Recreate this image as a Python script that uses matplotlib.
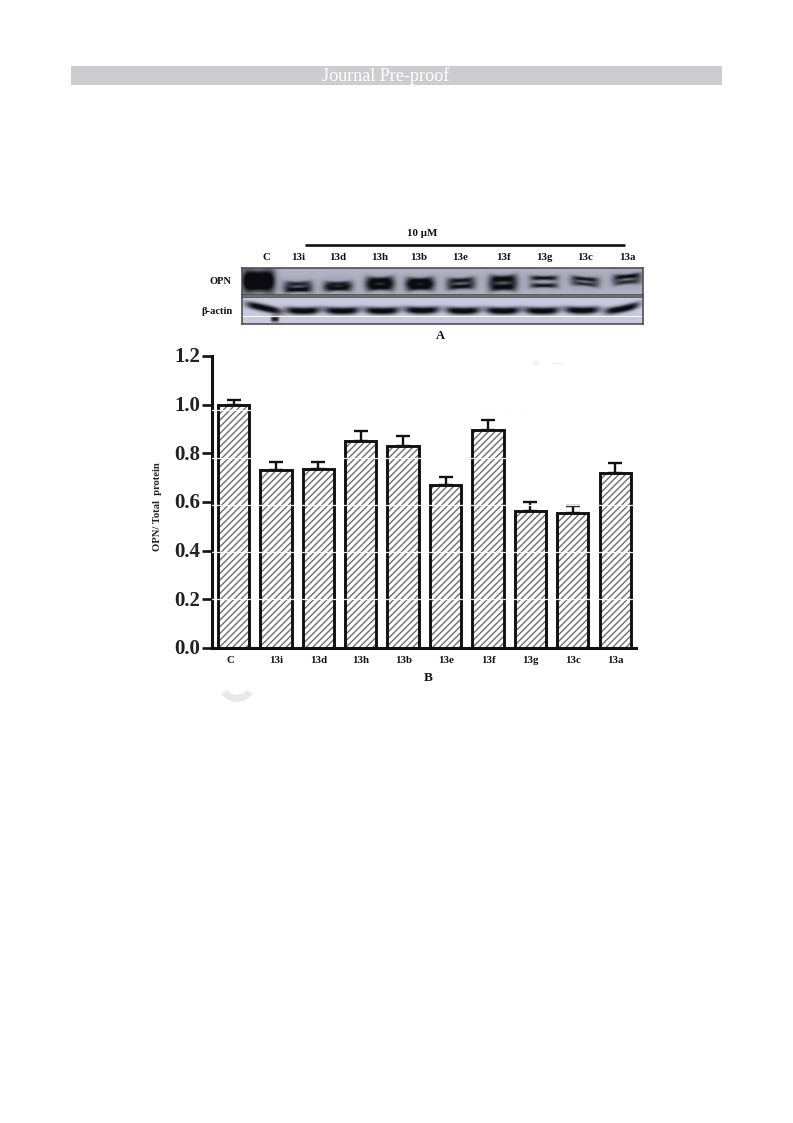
import numpy as np
import matplotlib
matplotlib.use("Agg")
import matplotlib.pyplot as plt
from matplotlib.patches import Rectangle, Wedge
from matplotlib.transforms import ScaledTranslation

categories = ["C", "13i", "13d", "13h", "13b", "13e", "13f", "13g", "13c", "13a"]
values = [1.00, 0.73, 0.735, 0.85, 0.83, 0.67, 0.895, 0.565, 0.555, 0.72]
errors = [0.02, 0.035, 0.03, 0.04, 0.04, 0.033, 0.04, 0.035, 0.027, 0.04]
y_ticks = [0.0, 0.2, 0.4, 0.6, 0.8, 1.0, 1.2]
scan_lines = [0.201, 0.395, 0.588, 0.781, 0.978]

# western blot band strengths per lane
opn_upper = [1.0, 0.75, 0.80, 1.0, 1.0, 0.85, 1.0, 0.90, 0.85, 0.95]
opn_lower = [1.0, 1.0, 0.90, 1.0, 1.0, 0.90, 1.0, 0.85, 0.70, 0.70]
actin_band = [1.0, 1.0, 1.0, 1.0, 1.0, 1.0, 1.0, 1.0, 1.0, 1.0]

W, H = 793, 1123
fig = plt.figure(figsize=(W / 100, H / 100), dpi=100, facecolor="white")
plt.rcParams["font.family"] = ["Liberation Serif", "DejaVu Serif"]
plt.rcParams["hatch.linewidth"] = 1.0
plt.rcParams["hatch.color"] = "#6e6e6e"


def axes_px(x0, y0, x1, y1, **kw):
    return fig.add_axes([x0 / W, 1 - y1 / H, (x1 - x0) / W, (y1 - y0) / H], **kw)


page = axes_px(0, 0, W, H)
page.set_xlim(0, W)
page.set_ylim(H, 0)
page.axis("off")
page.add_patch(Rectangle((71, 66), 651, 19, fc="#cdcdd1", ec="none"))
page.add_patch(Wedge((237, 683), 19, 35, 145, width=7, fc="#e8e8ea", ec="none"))
page.text(386, 76, "Journal Pre-proof", color="white", fontsize=13.1, ha="center", va="center")
page.plot([305, 625], [244.5, 244.5], color="#111111", lw=1.9, solid_capstyle="butt")
page.text(422, 233, "10 µM", fontsize=7.9, fontweight="bold", ha="center", va="center", color="#111111")
page.text(440, 336, "A", fontsize=9, fontweight="bold", ha="center", va="center", color="#111111")
page.text(428, 678, "B", fontsize=9.5, fontweight="bold", ha="center", va="center", color="#111111")
page.text(232, 282, "OPN", fontsize=7.6, fontweight="bold", ha="right", va="center", color="#111111")
page.text(233, 311, "β-actin", fontsize=7.6, fontweight="bold", ha="right", va="center", color="#111111")
page.text(157, 507, "OPN/ Total  protein", fontsize=7.7, fontweight="bold", rotation=90,
          ha="center", va="center", color="#222222")

opn_lanes = [258.5, 298, 338, 380, 420, 461, 503, 544, 585, 627]
opn_upper_y = [277, 284, 284, 280.5, 281, 280.5, 279, 278, 279, 276.5]
opn_lower_y = [285, 289.5, 288.5, 287, 287, 286.5, 287, 285.5, 284, 282]
opn_half_h = [7.5, 2.3, 2.3, 3.1, 3.0, 2.4, 3.3, 1.9, 1.9, 2.1]
opn_slope = [0, -0.02, -0.02, -0.02, -0.02, -0.05, -0.03, 0, 0.09, -0.09]
actin_lanes = [264, 303, 342, 382, 422, 463, 503, 542, 582, 622]
actin_y = [308, 311, 311, 311, 310.5, 311, 311, 311, 310.5, 309]
actin_slope = [0.22, 0, 0, 0, 0, 0, 0, 0, 0, -0.2]
blot_labels_x = [266.5, 298, 338, 380, 419, 460, 503, 544, 585, 627]
for lx, c in zip(blot_labels_x, categories):
    page.text(lx, 257, c, fontsize=7.8, fontweight="bold", ha="center", va="center", color="#111111")

# faint scanning specks above the bars
speck_x = [(533, 538), (553, 561), (484, 492), (502, 510), (523, 528)]
speck_y = [363, 363, 410, 410, 410]
for (a, b), yy in zip(speck_x, speck_y):
    page.plot([a, b], [yy, yy], color="#ececec", lw=0.9)


def band(xx, yy, cx, cy, half_w, half_h, slope=0.0, curve=0.0, bow=0.0):
    dx = xx - cx
    dy = yy - cy - slope * dx + curve * dx ** 2
    h = half_h * (1 + bow * (dx / half_w) ** 2)
    return np.exp(-np.abs(dx / half_w) ** 4) * np.exp(-np.abs(dy / h) ** 2.5)


def blot(x0, y0, x1, y1, bg, draw):
    xx, yy = np.meshgrid(np.arange(x0, x1, 0.5) + 0.25, np.arange(y0, y1, 0.5) + 0.25)
    dens = np.clip(draw(xx, yy), 0, 1)[..., None]
    img = np.array(bg)[None, None, :] * (1 - dens) + np.array([0.04, 0.04, 0.06])[None, None, :] * dens
    a = axes_px(x0, y0, x1, y1)
    a.imshow(img, extent=(x0, x1, y1, y0), aspect="auto", interpolation="bilinear")
    a.set_xticks([])
    a.set_yticks([])
    for s in a.spines.values():
        s.set_linewidth(1.1)
        s.set_color("#444444")
    return a


def opn(xx, yy):
    d = 0 * xx
    for i, cx in enumerate(opn_lanes):
        w = 15 if i == 0 else 13.5
        d = d + 0.12 * band(xx, yy, cx, (opn_upper_y[i] + opn_lower_y[i]) / 2, w + 5, 9)
        d = d + opn_upper[i] * band(xx, yy, cx, opn_upper_y[i], w, opn_half_h[i], opn_slope[i], 0, 0.6)
        d = d + opn_lower[i] * band(xx, yy, cx, opn_lower_y[i], w, opn_half_h[i], opn_slope[i], 0, 0.6)
    return d


def actin(xx, yy):
    d = 0 * xx
    for i, cx in enumerate(actin_lanes):
        w = 17.5 if i else 18
        d = d + 1.1 * actin_band[i] * band(xx, yy, cx, actin_y[i], w, 3.6, actin_slope[i], 0.004 if i else 0)
    d = d + 0.9 * band(xx, yy, 275, 319, 4, 3.0, 0)
    return d


blot(242, 268, 643, 295, (0.70, 0.70, 0.77), opn)
ab = blot(242, 297, 643, 324, (0.79, 0.79, 0.88), actin)
ab.axhline(316, color="white", lw=0.7)

# bar chart
ax = axes_px(212, 356, 636, 648)
ax.set_ylim(0, 1.2)
ax.set_xlim(-0.507, 9.49)
ax.patch.set_alpha(0)
x = np.arange(len(categories))
ax.bar(x, values, width=0.74, facecolor="white", edgecolor="#6e6e6e", hatch="/////", linewidth=0, zorder=2)
ax.bar(x, values, width=0.74, facecolor="none", edgecolor="#111111", linewidth=2.1, zorder=3)
ax.errorbar(x, values, yerr=[np.zeros(len(errors)), errors], fmt="none", ecolor="#111111",
            elinewidth=1.7, capsize=4.8, capthick=1.7, zorder=1)
for v in scan_lines:
    ax.axhline(v, color="white", lw=0.9, alpha=0.9, zorder=4)
for s in ("top", "right"):
    ax.spines[s].set_visible(False)
ax.spines["left"].set_linewidth(2.2)
ax.spines["bottom"].set_linewidth(2.2)
ax.spines["left"].set_color("#111111")
ax.spines["bottom"].set_color("#111111")
ax.set_yticks(y_ticks)
ax.set_yticklabels([f"{v:.1f}" for v in y_ticks], fontsize=15, fontweight="bold", color="#222222")
ax.set_xticks(x)
ax.set_xticklabels(categories, fontsize=7.8, fontweight="bold", color="#111111")
ax.tick_params(axis="y", length=7, width=1.9, pad=1.5, color="#111111")
ax.tick_params(axis="x", length=0, pad=6)
for lab in ax.get_yticklabels():
    lab.set_transform(lab.get_transform() + ScaledTranslation(0, 1.2 / 100, fig.dpi_scale_trans))
first = ax.get_xticklabels()[0]
first.set_transform(first.get_transform() + ScaledTranslation(-3.5 / 100, 0, fig.dpi_scale_trans))
fig.savefig("out.png", dpi=100, facecolor="white")
